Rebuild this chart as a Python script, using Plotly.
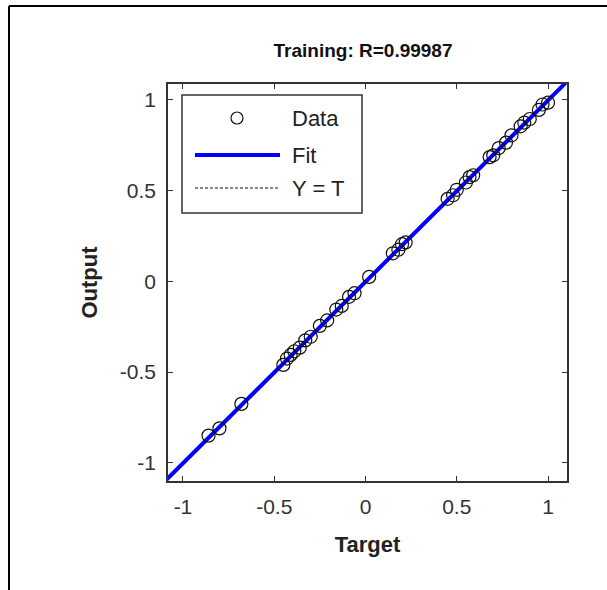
import plotly.graph_objects as go

# ---- data ----
targets = [-0.86, -0.80, -0.68, -0.45, -0.43, -0.41, -0.39, -0.36, -0.33, -0.30,
           -0.25, -0.21, -0.16, -0.13, -0.09, -0.06, 0.02, 0.15, 0.18, 0.20,
           0.22, 0.45, 0.48, 0.50, 0.55, 0.57, 0.59, 0.68, 0.70, 0.73,
           0.77, 0.80, 0.85, 0.87, 0.90, 0.95, 0.97, 1.00]
outputs = [-0.85, -0.81, -0.675, -0.46, -0.425, -0.405, -0.385, -0.365, -0.325, -0.305,
           -0.245, -0.215, -0.155, -0.135, -0.085, -0.065, 0.025, 0.155, 0.175, 0.205,
           0.215, 0.455, 0.475, 0.505, 0.545, 0.575, 0.585, 0.685, 0.695, 0.735,
           0.765, 0.805, 0.855, 0.875, 0.895, 0.945, 0.975, 0.985]
fit_x = [-1.2, 1.2]
fit_y = [-1.202, 1.198]
ident = [-1.2, 1.2]
tick_vals = [-1, -0.5, 0, 0.5, 1]
tick_text = ["-1", "-0.5", "0", "0.5", "1"]
title_text = "Training: R=0.99987"

W, H = 607, 590
L, R, T, B = 168, 567, 84, 481

def px(x):
    return (x - L) / (R - L)

def py(y):
    return (B - y) / (B - T)

fig = go.Figure()
fig.add_trace(go.Scatter(x=ident, y=ident, mode="lines",
                         line=dict(color="black", width=1, dash="3px,2px"),
                         showlegend=False, hoverinfo="skip"))
fig.add_trace(go.Scatter(x=fit_x, y=fit_y, mode="lines",
                         line=dict(color="#0000ff", width=4),
                         showlegend=False))
fig.add_trace(go.Scatter(x=targets, y=outputs, mode="markers",
                         marker=dict(symbol="circle-open", size=13,
                                     color="#111111", line=dict(width=1.2)),
                         showlegend=False))

axis_common = dict(
    tickvals=tick_vals, ticktext=tick_text, ticks="inside", ticklen=5,
    tickcolor="#333", showline=True, linecolor="#333", linewidth=1.5,
    mirror="ticks", showgrid=False, zeroline=False,
    tickfont=dict(family="Liberation Sans, Arial", size=21, color="#333"),
)
fig.update_xaxes(range=[-1.082, 1.104], title=dict(text="<b>Target</b>",
                 font=dict(family="Liberation Sans, Arial", size=22, color="#222"),
                 standoff=20), ticklabelstandoff=6, **axis_common)
fig.update_yaxes(range=[-1.1, 1.088], title=dict(text="<b>Output</b>",
                 font=dict(family="Liberation Sans, Arial", size=22, color="#222"),
                 standoff=16), ticklabelstandoff=6, **axis_common)

shapes = []
# legend box
shapes.append(dict(type="rect", xref="paper", yref="paper",
                   x0=px(182), x1=px(362), y0=py(213), y1=py(95),
                   line=dict(color="#333", width=1.5), fillcolor="white", layer="above"))
shapes.append(dict(type="circle", xref="paper", yref="paper",
                   x0=px(231), x1=px(243), y0=py(124), y1=py(112),
                   line=dict(color="#111", width=1.2), layer="above"))
shapes.append(dict(type="line", xref="paper", yref="paper",
                   x0=px(195), x1=px(280), y0=py(155), y1=py(155),
                   line=dict(color="#0000ff", width=4), layer="above"))
shapes.append(dict(type="line", xref="paper", yref="paper",
                   x0=px(195), x1=px(280), y0=py(188), y1=py(188),
                   line=dict(color="#111", width=1, dash="3px,2px"), layer="above"))
# outer frame (top and left)
shapes.append(dict(type="line", xref="paper", yref="paper",
                   x0=px(9), x1=px(607), y0=py(6), y1=py(6),
                   line=dict(color="black", width=2)))
shapes.append(dict(type="line", xref="paper", yref="paper",
                   x0=px(9), x1=px(9), y0=py(6), y1=py(590),
                   line=dict(color="black", width=2)))

annotations = []
for label, yy in [("Data", 118), ("Fit", 155), ("Y = T", 188)]:
    annotations.append(dict(text=label, xref="paper", yref="paper",
                            x=px(290), y=py(yy), xanchor="left", yanchor="middle",
                            showarrow=False,
                            font=dict(family="Liberation Sans, Arial", size=22, color="#222")))

fig.update_layout(
    width=W, height=H,
    margin=dict(l=L, r=W - R, t=T, b=H - B),
    paper_bgcolor="white", plot_bgcolor="white",
    title=dict(text="<b>" + title_text + "</b>", x=px(363), xref="paper",
               xanchor="center", y=1 - 50 / H, yanchor="middle",
               font=dict(family="Liberation Sans Narrow, Liberation Sans, Arial", size=19, color="#111")),
    shapes=shapes, annotations=annotations,
)

fig.write_html("out.html")
